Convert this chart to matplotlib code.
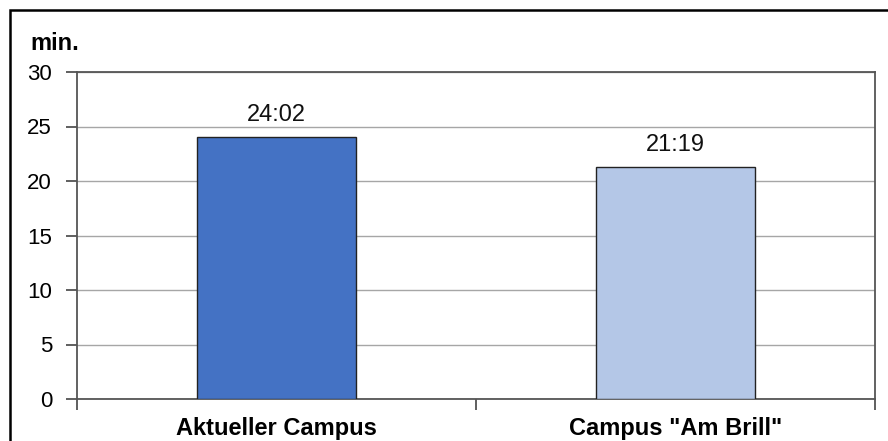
import matplotlib.pyplot as plt
from matplotlib.patches import Rectangle

# %% Data
categories = ['Aktueller Campus', 'Campus "Am Brill"']
minutes = [24 + 2 / 60, 21 + 19 / 60]
value_labels = ['24:02', '21:19']
bar_colors = ['#4472C4', '#B4C7E7']
y_ticks = [0, 5, 10, 15, 20, 25, 30]

plt.rcParams['font.family'] = ['Liberation Sans', 'DejaVu Sans']

W, H = 888, 441
fig = plt.figure(figsize=(W / 100, H / 100), dpi=100)
ax = fig.add_axes([77 / W, 1 - 399 / H, (875 - 77) / W, (399 - 72) / H])

x = [0.5, 1.5]
ax.bar(x, minutes, width=0.4, color=bar_colors, edgecolor='#222222', linewidth=1.0, zorder=3)
for xi, v, lab in zip(x, minutes, value_labels):
    ax.text(xi, v + 1.0, lab, ha='center', va='bottom', fontsize=17, color='#111111')

ax.set_xlim(0, 2)
ax.set_ylim(0, 30)
ax.set_yticks(y_ticks)
ax.set_yticklabels([str(t) for t in y_ticks], fontsize=16)
ax.yaxis.grid(True, color='#a6a6a6', linewidth=1.0, zorder=0)
ax.set_axisbelow(True)

# category boundary ticks, labels centred between them
ax.set_xticks([0, 1, 2])
ax.set_xticklabels([])
ax.set_xticks(x, minor=True)
ax.set_xticklabels(categories, minor=True, fontsize=17, fontweight='bold')
ax.tick_params(axis='x', which='minor', length=0, pad=13)
ax.tick_params(axis='x', which='major', length=8, width=1.2, color='#444444')
ax.tick_params(axis='y', length=8, width=1.2, color='#444444', pad=10)

for s in ax.spines.values():
    s.set_color('#555555')
    s.set_linewidth(1.3)

fig.text(30 / W, 1 - 43 / H, 'min.', fontsize=17, fontweight='bold', va='center', ha='left')

# outer frame
fig.patches.append(Rectangle((9.5 / W, -0.1), 1.2, 1 - 9.5 / H + 0.1, transform=fig.transFigure,
                             fill=False, edgecolor='black', linewidth=1.8))

fig.savefig('out.png', dpi=100)
